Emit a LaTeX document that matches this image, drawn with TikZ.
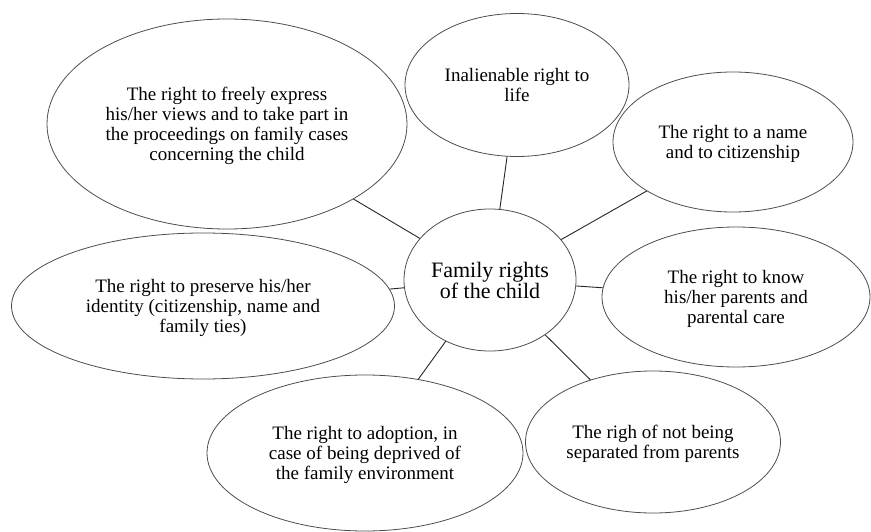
\documentclass[tikz,border=0pt]{standalone}
\usepackage{fontspec}
\newfontfamily\timesfont{Liberation Serif}
\usetikzlibrary{shapes.geometric}

\tikzset{
  bubble/.style={ellipse, draw=black!70, line width=0.8pt, inner sep=0pt,
    align=center, text depth=0pt, font=\timesfont\fontsize{19}{20}\selectfont},
  hub/.style={bubble, font=\timesfont\fontsize{22}{21}\selectfont},
  spoke/.style={draw=black!85, line width=0.9pt}
}

\begin{document}
\begin{tikzpicture}[x=1pt, y=-1pt]
  \useasboundingbox (0,0) rectangle (871,532);

  % central topic
  \node[hub, minimum width=172pt, minimum height=142pt] (hub) at (490,280)
    {Family rights\\of the child};

  % surrounding rights
  \node[bubble, minimum width=360pt, minimum height=210pt] (views) at (227,124)
    {The right to freely express\\his/her views and to take part in\\the proceedings on family cases\\concerning the child};
  \node[bubble, minimum width=224pt, minimum height=143pt] (life) at (517,85)
    {Inalienable right to\\life};
  \node[bubble, minimum width=240pt, minimum height=140pt] (name) at (733,142)
    {The right to a name\\and to citizenship};
  \node[bubble, minimum width=268pt, minimum height=140pt] (know) at (736,297)
    {The right to know\\his/her parents and\\parental care};
  \node[bubble, minimum width=255pt, minimum height=142pt] (separ) at (653,442)
    {The righ of not being\\separated from parents};
  \node[bubble, minimum width=316pt, minimum height=156pt] (adopt) at (365,453)
    {The right to adoption, in\\case of being deprived of\\the family environment};
  \node[bubble, minimum width=383pt, minimum height=146pt] (ident) at (203,306)
    {The right to preserve his/her\\identity (citizenship, name and\\family ties)};

  % connectors from the hub
  \foreach \n in {views, life, name, know, separ, adopt, ident}
    \draw[spoke] (hub) -- (\n);
\end{tikzpicture}
\end{document}
